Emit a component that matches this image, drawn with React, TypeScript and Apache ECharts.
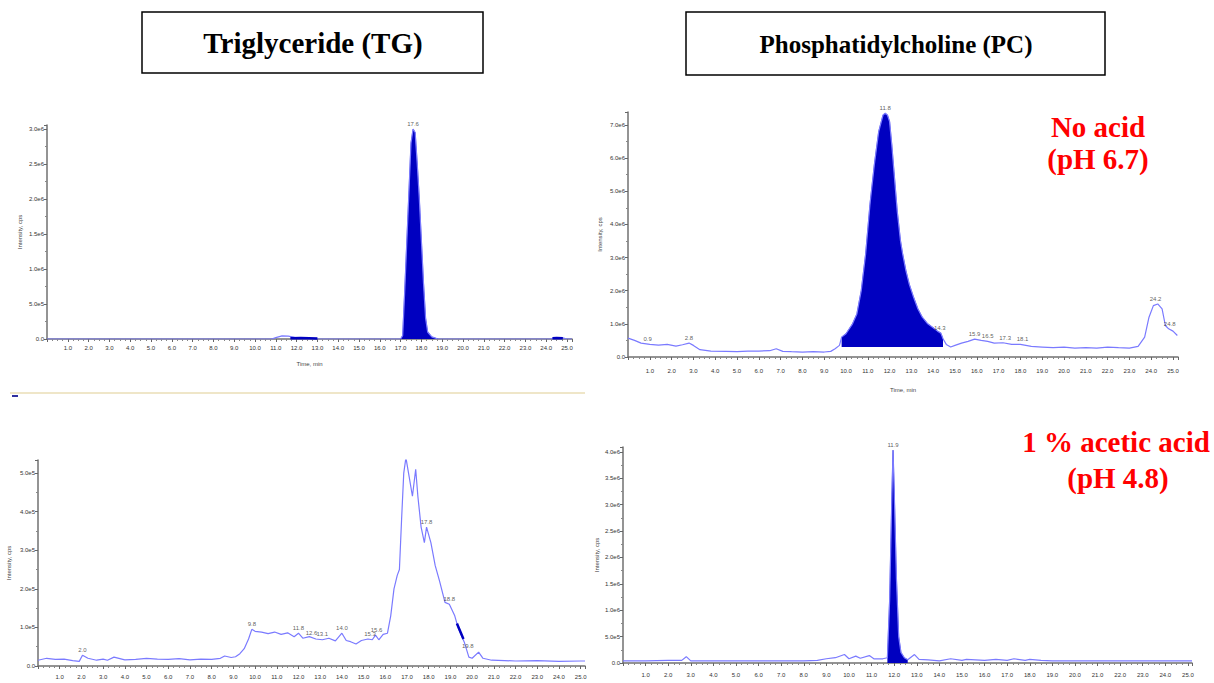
import React, { useEffect, useRef } from "react";
import * as echarts from "echarts";

// ---------- Triglyceride, no acid (top-left) ----------
const tlTime = [0, 10.8, 11.0, 11.3, 11.6, 11.9, 12.2, 12.5, 13.0, 14.4, 16.0, 16.9, 17.0, 17.1, 17.2, 17.3, 17.4, 17.5, 17.6, 17.7, 17.8, 17.9, 18.0, 18.1, 18.2, 18.3, 18.5, 18.8, 19.0, 24.2, 24.4, 24.8, 25.0, 25.24];
const tlIntensity = [0, 0, 20000, 45000, 40000, 25000, 15000, 10000, 0, 0, 0, 0, 0, 50000, 700000, 1400000, 2100000, 2800000, 3000000, 2950000, 2500000, 2000000, 1400000, 800000, 300000, 100000, 30000, 0, 0, 0, 15000, 15000, 0, 0];
const tlFillTime = [17.0, 17.1, 17.2, 17.3, 17.4, 17.5, 17.6, 17.7, 17.8, 17.9, 18.0, 18.1, 18.2, 18.3, 18.5, 18.8];
const tlFillIntensity = [0, 50000, 700000, 1400000, 2100000, 2800000, 3000000, 2950000, 2500000, 2000000, 1400000, 800000, 300000, 100000, 30000, 0];
const tlMarkTime = [11.7, 12.2, 12.6, 13.0];
const tlMarkIntensity = [12000, 14000, 10000, 6000];
const tlMark2Time = [24.3, 24.5, 24.8];
const tlMark2Intensity = [12000, 14000, 12000];
const tlPeakTime = [17.6];
const tlPeakIntensity = [3000000];
const tlPeakLabel = ["17.6"];

// ---------- Phosphatidylcholine, no acid (top-right) ----------
const trTime = [0, 0.3, 0.6, 1.0, 1.4, 1.8, 2.2, 2.5, 2.8, 3.0, 3.3, 3.8, 4.5, 5.0, 5.5, 6.0, 6.5, 6.8, 7.1, 7.5, 8.0, 8.5, 9.0, 9.3, 9.5, 9.7, 9.8, 10.0, 10.3, 10.5, 10.7, 10.9, 11.1, 11.3, 11.5, 11.7, 11.8, 11.9, 12.0, 12.1, 12.2, 12.35, 12.5, 12.6, 12.75, 12.9, 13.1, 13.3, 13.5, 13.75, 14.0, 14.2, 14.35, 14.45, 14.6, 14.8, 15.0, 15.3, 15.6, 15.9, 16.2, 16.5, 16.8, 17.2, 17.6, 18.0, 18.5, 19.0, 19.5, 20.0, 20.5, 21.0, 21.5, 22.0, 22.5, 23.0, 23.4, 23.7, 23.9, 24.1, 24.3, 24.5, 24.65, 24.8, 25.0, 25.2];
const trIntensity = [570000, 500000, 420000, 380000, 360000, 380000, 330000, 370000, 420000, 350000, 220000, 180000, 170000, 160000, 180000, 180000, 190000, 250000, 170000, 160000, 150000, 160000, 150000, 170000, 250000, 350000, 600000, 700000, 1000000, 1300000, 2000000, 3100000, 4600000, 5800000, 6800000, 7300000, 7350000, 7300000, 7100000, 6400000, 5600000, 4400000, 3500000, 3100000, 2600000, 2200000, 1800000, 1450000, 1200000, 1000000, 880000, 780000, 720000, 550000, 380000, 300000, 350000, 420000, 470000, 540000, 500000, 470000, 420000, 430000, 380000, 380000, 320000, 300000, 280000, 300000, 270000, 280000, 270000, 300000, 280000, 270000, 320000, 600000, 1200000, 1550000, 1600000, 1450000, 950000, 850000, 780000, 650000];
const trFillTime = [9.8, 10.0, 10.3, 10.5, 10.7, 10.9, 11.1, 11.3, 11.5, 11.7, 11.8, 11.9, 12.0, 12.1, 12.2, 12.35, 12.5, 12.6, 12.75, 12.9, 13.1, 13.3, 13.5, 13.75, 14.0, 14.2, 14.35, 14.45];
const trFillIntensity = [600000, 700000, 1000000, 1300000, 2000000, 3100000, 4600000, 5800000, 6800000, 7300000, 7350000, 7300000, 7100000, 6400000, 5600000, 4400000, 3500000, 3100000, 2600000, 2200000, 1800000, 1450000, 1200000, 1000000, 880000, 780000, 720000, 550000];
const trFillBase = 300000;
const trPeakTime = [0.9, 2.8, 11.8, 14.3, 15.9, 16.5, 17.3, 18.1, 24.2, 24.85];
const trPeakIntensity = [380000, 420000, 7350000, 720000, 540000, 480000, 430000, 380000, 1600000, 850000];
const trPeakLabel = ["0.9", "2.8", "11.8", "14.3", "15.9", "16.5", "17.3", "18.1", "24.2", "24.8"];

// ---------- Triglyceride, 1 % acetic acid (bottom-left) ----------
const blTime = [0, 0.4, 0.8, 1.2, 1.6, 1.9, 2.05, 2.3, 2.7, 3.0, 3.2, 3.5, 4.0, 4.5, 5.0, 5.5, 6.0, 6.5, 7.0, 7.5, 8.0, 8.4, 8.6, 8.9, 9.1, 9.3, 9.5, 9.7, 9.85, 10.0, 10.3, 10.6, 10.9, 11.2, 11.5, 11.8, 12.0, 12.2, 12.5, 12.8, 13.1, 13.4, 13.7, 14.0, 14.2, 14.4, 14.65, 14.9, 15.2, 15.4, 15.55, 15.7, 15.9, 16.1, 16.25, 16.4, 16.55, 16.65, 16.75, 16.85, 16.95, 17.1, 17.25, 17.4, 17.5, 17.65, 17.8, 17.9, 18.1, 18.3, 18.5, 18.75, 18.95, 19.2, 19.35, 19.65, 19.85, 20.0, 20.3, 20.5, 20.9, 21.5, 22.0, 23.0, 24.0, 25.0, 25.2];
const blIntensity = [15000, 20000, 17000, 18000, 14000, 12000, 28000, 20000, 15000, 18000, 15000, 23000, 16000, 17000, 20000, 18000, 17000, 19000, 16000, 18000, 17000, 20000, 26000, 22000, 24000, 32000, 45000, 70000, 95000, 90000, 88000, 84000, 88000, 82000, 86000, 76000, 85000, 72000, 76000, 70000, 68000, 72000, 65000, 85000, 66000, 63000, 57000, 66000, 70000, 68000, 80000, 68000, 82000, 85000, 130000, 200000, 235000, 250000, 380000, 500000, 540000, 490000, 440000, 510000, 440000, 360000, 320000, 360000, 320000, 260000, 220000, 165000, 160000, 130000, 100000, 60000, 23000, 20000, 36000, 20000, 15000, 14000, 13000, 14000, 12000, 13000, 13000];
const blMarkTime = [19.3, 19.45, 19.6];
const blMarkIntensity = [110000, 90000, 70000];
const blPeakTime = [2.05, 9.85, 12.0, 12.6, 13.1, 14.0, 15.3, 15.6, 16.95, 17.9, 18.95, 19.8];
const blPeakIntensity = [28000, 95000, 85000, 72000, 70000, 85000, 70000, 80000, 540000, 360000, 160000, 40000];
const blPeakLabel = ["2.0", "9.8", "11.8", "12.6", "13.1", "14.0", "15.3", "15.6", "16.9", "17.8", "18.8", "19.8"];

// ---------- Phosphatidylcholine, 1 % acetic acid (bottom-right) ----------
const brTime = [0, 1, 2, 2.6, 2.8, 3.0, 4, 5, 6, 7, 8, 8.6, 9.0, 9.4, 9.8, 10.0, 10.3, 10.5, 10.9, 11.1, 11.5, 11.7, 11.8, 11.9, 11.95, 12.0, 12.1, 12.2, 12.3, 12.45, 12.6, 12.9, 13.1, 13.5, 14.0, 14.5, 15.0, 15.2, 16.0, 16.5, 17.0, 17.3, 17.8, 18.0, 18.5, 19.0, 20, 22, 24, 25, 25.18];
const brIntensity = [40000, 40000, 50000, 50000, 120000, 40000, 40000, 40000, 40000, 40000, 40000, 50000, 80000, 100000, 160000, 80000, 130000, 90000, 140000, 80000, 80000, 100000, 1200000, 3200000, 4030000, 3300000, 1600000, 500000, 200000, 100000, 60000, 160000, 70000, 60000, 40000, 80000, 50000, 70000, 50000, 70000, 50000, 80000, 50000, 70000, 50000, 40000, 40000, 40000, 40000, 40000, 40000];
const brFillTime = [11.7, 11.8, 11.9, 11.95, 12.0, 12.1, 12.2, 12.3, 12.45, 12.6];
const brFillIntensity = [100000, 1200000, 3200000, 4030000, 3300000, 1600000, 500000, 200000, 100000, 60000];
const brPeakTime = [11.95];
const brPeakIntensity = [4030000];
const brPeakLabel = ["11.9"];

// ---------- texts ----------
const titleLeft = "Triglyceride (TG)";
const titleRight = "Phosphatidylcholine (PC)";
const condTop = ["No acid", "(pH 6.7)"];
const condBottom = ["1 % acetic acid", "(pH 4.8)"];

const LIGHT = "#7a7aff";
const DARK = "#0000c0";

const pairs = (t: number[], v: number[]) => t.map((x, i) => [x, v[i]]);
const labelPoints = (t: number[], v: number[], l: string[]) =>
  t.map((x, i) => ({ value: [x, v[i]], name: l[i] }));

export default function App() {
  const ref = useRef<HTMLDivElement>(null);
  useEffect(() => {
    if (!ref.current) return;
    const chart = echarts.init(ref.current, null, { renderer: "svg" });

    const panels = [
      { grid: { left: 47, top: 125, width: 525, height: 214 }, xMax: 25.24, yMax: 3057000, yInt: 500000, xName: "Time, min", xMargin: 6, xNameGap: 22, yNameGap: 24 },
      { grid: { left: 628, top: 112, width: 550, height: 245 }, xMax: 25.23, yMax: 7390000, yInt: 1000000, xName: "Time, min", xMargin: 11, xNameGap: 30, yNameGap: 25 },
      { grid: { left: 38, top: 460, width: 547, height: 206 }, xMax: 25.2, yMax: 534000, yInt: 100000, xName: "", xMargin: 8, xNameGap: 22, yNameGap: 26 },
      { grid: { left: 623, top: 447, width: 569, height: 216 }, xMax: 25.18, yMax: 4090000, yInt: 500000, xName: "", xMargin: 9, xNameGap: 22, yNameGap: 23 },
    ];

    const tickFont = { fontSize: 6, color: "#333", fontFamily: "Liberation Sans" };
    const axisLine = { show: true, lineStyle: { color: "#707070", width: 1.5 } };

    const grids = panels.map((p) => ({ ...p.grid, containLabel: false }));
    const xAxes = panels.map((p, i) => ({
      type: "value",
      gridIndex: i,
      min: 0,
      max: p.xMax,
      interval: 1,
      name: p.xName,
      nameLocation: "middle",
      nameGap: p.xNameGap,
      nameTextStyle: { fontSize: 6, color: "#444", fontFamily: "Liberation Sans" },
      axisLine,
      axisTick: { show: true, length: 3, lineStyle: { color: "#666" } },
      minorTick: { show: true, splitNumber: 4, length: 2, lineStyle: { color: "#888" } },
      splitLine: { show: false },
      axisLabel: {
        ...tickFont,
        margin: p.xMargin,
        formatter: (v: number) =>
          v === 0 || Math.abs(v - Math.round(v)) > 1e-6 ? "" : v.toFixed(1),
      },
    }));
    const yAxes = panels.map((p, i) => ({
      type: "value",
      gridIndex: i,
      min: 0,
      max: p.yMax,
      interval: p.yInt,
      name: "Intensity, cps",
      nameLocation: "middle",
      nameGap: p.yNameGap,
      nameTextStyle: { fontSize: 6, color: "#444", fontFamily: "Liberation Sans" },
      axisLine,
      axisTick: { show: true, length: 3, lineStyle: { color: "#666" } },
      minorTick: { show: true, splitNumber: 2, length: 2, lineStyle: { color: "#888" } },
      splitLine: { show: false },
      axisLabel: {
        ...tickFont,
        margin: 3,
        formatter: (v: number) => {
          if (v === 0) return "0.0";
          if (Math.abs(v / p.yInt - Math.round(v / p.yInt)) > 1e-6) return "";
          return v.toExponential(1).replace("e+", "e");
        },
      },
    }));

    const line = (i: number, t: number[], v: number[]) => ({
      type: "line",
      xAxisIndex: i,
      yAxisIndex: i,
      data: pairs(t, v),
      showSymbol: false,
      symbol: "none",
      lineStyle: { color: LIGHT, width: 1.2 },
      z: 3,
      silent: true,
    });
    const fill = (i: number, t: number[], v: number[], origin?: number) => ({
      type: "line",
      xAxisIndex: i,
      yAxisIndex: i,
      data: pairs(t, v),
      showSymbol: false,
      symbol: "none",
      lineStyle: { color: DARK, width: 0.5 },
      areaStyle: { color: DARK, opacity: 1, ...(origin !== undefined ? { origin } : {}) },
      z: 2,
      silent: true,
    });
    const mark = (i: number, t: number[], v: number[]) => ({
      type: "line",
      xAxisIndex: i,
      yAxisIndex: i,
      data: pairs(t, v),
      showSymbol: false,
      symbol: "none",
      lineStyle: { color: DARK, width: 2.5 },
      z: 4,
      silent: true,
    });
    const labels = (i: number, t: number[], v: number[], l: string[]) => ({
      type: "scatter",
      xAxisIndex: i,
      yAxisIndex: i,
      data: labelPoints(t, v, l),
      symbolSize: 0,
      z: 5,
      silent: true,
      label: {
        show: true,
        position: "top",
        distance: 2,
        formatter: (p: any) => p.name,
        fontSize: 6,
        color: "#333",
        fontFamily: "Liberation Sans",
      },
    });

    const series = [
      fill(0, tlFillTime, tlFillIntensity),
      line(0, tlTime, tlIntensity),
      mark(0, tlMarkTime, tlMarkIntensity),
      mark(0, tlMark2Time, tlMark2Intensity),
      labels(0, tlPeakTime, tlPeakIntensity, tlPeakLabel),

      fill(1, trFillTime, trFillIntensity, trFillBase),
      line(1, trTime, trIntensity),
      labels(1, trPeakTime, trPeakIntensity, trPeakLabel),

      line(2, blTime, blIntensity),
      mark(2, blMarkTime, blMarkIntensity),
      labels(2, blPeakTime, blPeakIntensity, blPeakLabel),

      fill(3, brFillTime, brFillIntensity),
      line(3, brTime, brIntensity),
      labels(3, brPeakTime, brPeakIntensity, brPeakLabel),
    ];

    const serif = '"Liberation Serif", "Times New Roman", serif';
    const text = (str: string, x: number, y: number, color: string, size: number) => ({
      type: "text",
      x,
      y,
      style: {
        text: str,
        font: `bold ${size}px ${serif}`,
        fill: color,
        align: "center",
        verticalAlign: "middle",
        textAlign: "center",
        textVerticalAlign: "middle",
      },
      silent: true,
    });

    const graphic = [
      { type: "rect", shape: { x: 142, y: 12, width: 341, height: 61 }, style: { fill: "#fff", stroke: "#000", lineWidth: 1.5 }, silent: true },
      text(titleLeft, 313, 43, "#000", 29),
      { type: "rect", shape: { x: 686, y: 12, width: 419, height: 63 }, style: { fill: "#fff", stroke: "#000", lineWidth: 1.5 }, silent: true },
      text(titleRight, 896, 44, "#000", 25),
      text(condTop[0], 1098, 127, "#ff0000", 29),
      text(condTop[1], 1098, 159, "#ff0000", 29),
      text(condBottom[0], 1116, 442, "#ff0000", 29),
      text(condBottom[1], 1118, 478, "#ff0000", 29),
      { type: "line", shape: { x1: 10, y1: 393, x2: 585, y2: 393 }, style: { stroke: "#efe6c8", lineWidth: 2 }, silent: true },
      { type: "rect", shape: { x: 12, y: 395, width: 6, height: 2 }, style: { fill: "#3030a0" }, silent: true },
    ];

    chart.setOption({
      animation: false,
      backgroundColor: "#fff",
      grid: grids,
      xAxis: xAxes,
      yAxis: yAxes,
      series,
      graphic,
    });
    return () => chart.dispose();
  }, []);

  return (
    <div
      ref={ref}
      style={{ position: "absolute", left: 0, top: 0, width: 1214, height: 683, background: "#fff" }}
    />
  );
}
